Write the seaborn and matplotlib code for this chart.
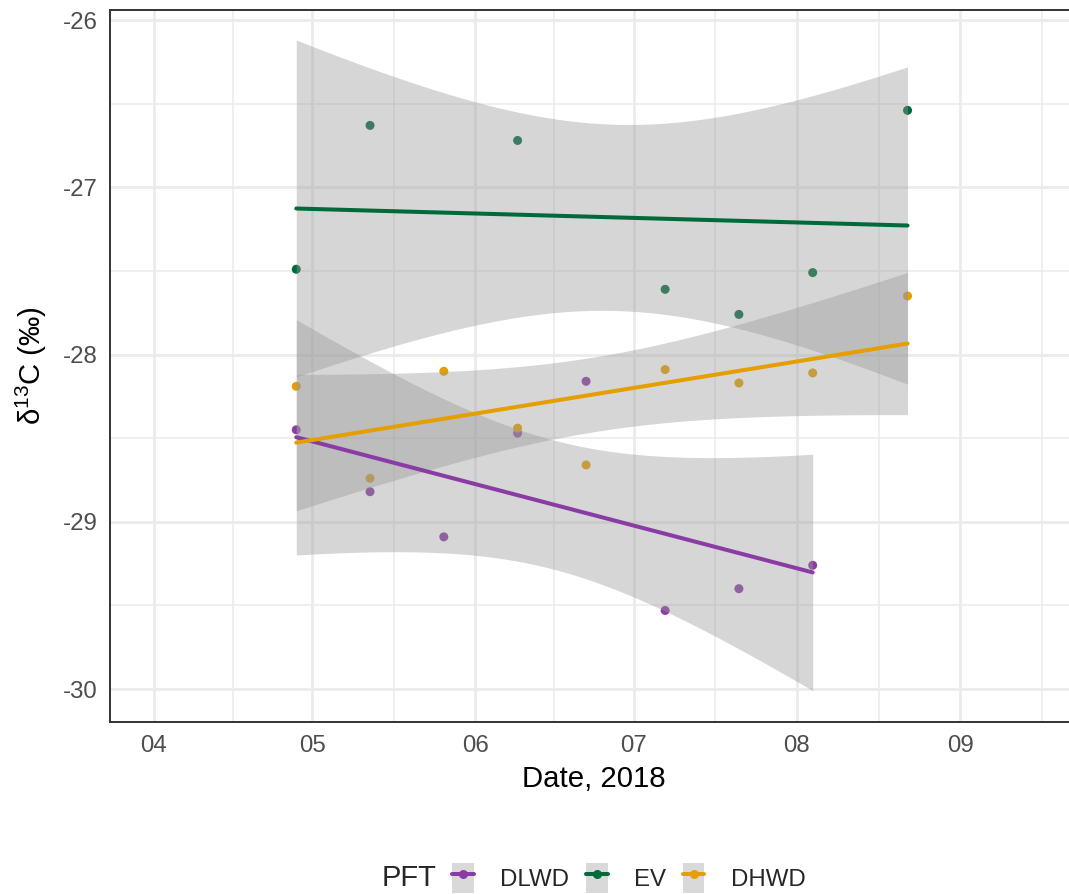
import numpy as np
import pandas as pd
import matplotlib
matplotlib.use("Agg")
import matplotlib.pyplot as plt
import matplotlib.dates as mdates
from matplotlib.lines import Line2D
from matplotlib.patches import Patch
from matplotlib.legend_handler import HandlerTuple
import seaborn as sns

# ---- data -------------------------------------------------------------
dlwd_dates = ["2018-04-28", "2018-05-12", "2018-05-26", "2018-06-09",
              "2018-06-22", "2018-07-07", "2018-07-21", "2018-08-04"]
dlwd_d13c = [-28.45, -28.82, -29.09, -28.47, -28.16, -29.53, -29.40, -29.26]

ev_dates = ["2018-04-28", "2018-05-12", "2018-06-09", "2018-07-07",
            "2018-07-21", "2018-08-04", "2018-08-22"]
ev_d13c = [-27.49, -26.63, -26.72, -27.61, -27.76, -27.51, -26.54]

dhwd_dates = ["2018-04-28", "2018-05-12", "2018-05-26", "2018-06-09",
              "2018-06-22", "2018-07-07", "2018-07-21", "2018-08-04",
              "2018-08-22"]
dhwd_d13c = [-28.19, -28.74, -28.10, -28.44, -28.66, -28.09, -28.17,
             -28.11, -27.65]

pft_order = ["DLWD", "EV", "DHWD"]
pft_colors = {"DLWD": "#8A3CA4", "EV": "#006A3B", "DHWD": "#E69F00"}

# two-sided 95% t quantiles by residual degrees of freedom
t975 = {5: 2.5706, 6: 2.4469, 7: 2.3646}

x_ticks = ["2018-04-01", "2018-05-01", "2018-06-01", "2018-07-01",
           "2018-08-01", "2018-09-01"]

# ---- assemble ---------------------------------------------------------
frames = []
for name, d, v in [("DLWD", dlwd_dates, dlwd_d13c),
                   ("EV", ev_dates, ev_d13c),
                   ("DHWD", dhwd_dates, dhwd_d13c)]:
    frames.append(pd.DataFrame({"date": pd.to_datetime(d), "d13C": v, "PFT": name}))
df = pd.concat(frames, ignore_index=True)
df["PFT"] = pd.Categorical(df["PFT"], categories=pft_order, ordered=True)
df["num"] = mdates.date2num(df["date"])

# ---- style ------------------------------------------------------------
sns.set_theme(style="white")
plt.rcParams["font.family"] = ["Liberation Sans", "DejaVu Sans"]
plt.rcParams["mathtext.fontset"] = "custom"
plt.rcParams["mathtext.rm"] = "Liberation Sans"
plt.rcParams["mathtext.it"] = "Liberation Sans:italic"

W, H = 1069, 894
fig = plt.figure(figsize=(W / 100, H / 100), dpi=100)
fig.patch.set_facecolor("white")
# panel: left 110 px, bottom 722 px, top 10 px, right edge beyond the figure
ax = fig.add_axes([110 / W, (H - 722) / H, (1078 - 110) / W, (722 - 10) / H])
ax.set_facecolor("white")

# points (drawn underneath the confidence ribbons)
sns.scatterplot(data=df, x="num", y="d13C", hue="PFT", hue_order=pft_order,
                palette=pft_colors, s=42, linewidth=0, legend=False,
                ax=ax, zorder=2)

# linear fits with 95% confidence bands
fit_rows = []
for name in pft_order:
    sub = df[df["PFT"] == name]
    x = sub["num"].to_numpy()
    y = sub["d13C"].to_numpy()
    n = len(x)
    b1, b0 = np.polyfit(x, y, 1)
    resid = y - (b0 + b1 * x)
    s = np.sqrt(np.sum(resid ** 2) / (n - 2))
    xg = np.linspace(x.min(), x.max(), 80)
    yg = b0 + b1 * xg
    se = s * np.sqrt(1 / n + (xg - x.mean()) ** 2 / np.sum((x - x.mean()) ** 2))
    half = t975[n - 2] * se
    ax.fill_between(xg, yg - half, yg + half, color="#999999", alpha=0.4,
                    linewidth=0, zorder=3)
    fit_rows.append(pd.DataFrame({"num": xg, "fit": yg, "PFT": name}))
fits = pd.concat(fit_rows, ignore_index=True)
sns.lineplot(data=fits, x="num", y="fit", hue="PFT", hue_order=pft_order,
             palette=pft_colors, linewidth=2.9, legend=False, ax=ax,
             estimator=None, zorder=4)

# ---- axes -------------------------------------------------------------
apr1 = mdates.date2num(pd.Timestamp("2018-04-01"))
ax.set_xlim(apr1 - 8.35, apr1 + 175.35)
ax.set_ylim(-30.197, -25.940)

major_x = mdates.date2num(pd.to_datetime(x_ticks))
minor_x = (major_x[:-1] + major_x[1:]) / 2
minor_x = np.append(minor_x, major_x[-1] + (major_x[-1] - major_x[-2]) / 2)
ax.set_xticks(major_x)
ax.set_xticklabels([pd.Timestamp(t).strftime("%m") for t in x_ticks])
ax.set_xticks(minor_x, minor=True)
ax.set_yticks([-30, -29, -28, -27, -26])
ax.set_yticklabels(["-30", "-29", "-28", "-27", "-26"])
ax.set_yticks([-29.5, -28.5, -27.5, -26.5], minor=True)

ax.grid(which="major", color="#EBEBEB", linewidth=2.0, zorder=0)
ax.grid(which="minor", color="#EBEBEB", linewidth=1.1, zorder=0)
ax.set_axisbelow(True)

for side in ["left", "top", "bottom", "right"]:
    ax.spines[side].set_color("#333333")
    ax.spines[side].set_linewidth(1.4)

ax.tick_params(axis="both", which="major", length=5, width=1.4,
               color="#333333", labelcolor="#4D4D4D", labelsize=17.3, pad=4)
ax.tick_params(axis="both", which="minor", length=0)

ax.set_xlabel("Date, 2018", fontsize=21.2, color="black", labelpad=6)
ax.set_ylabel("δ$^{13}$C (‰)", fontsize=21.2, color="black", labelpad=10)

# ---- legend -----------------------------------------------------------
handles = []
for name in pft_order:
    handles.append((Patch(facecolor="#D9D9D9", edgecolor="none"),
                    Line2D([], [], color=pft_colors[name], linewidth=2.9,
                           marker="o", markersize=6.5, markeredgewidth=0)))
fig.text(382 / W, 1 - 878 / H, "PFT", fontsize=21, ha="left", va="center")
fig.legend(handles, pft_order, handler_map={tuple: HandlerTuple(ndivide=1, pad=0)},
           loc="center left", bbox_to_anchor=(452 / W, 1 - 878 / H),
           ncol=3, frameon=False, fontsize=17.3, handlelength=0.9,
           handleheight=1.6, handletextpad=1.1, columnspacing=0.7,
           borderpad=0, borderaxespad=0)

fig.savefig("out.png", dpi=100, facecolor="white")
